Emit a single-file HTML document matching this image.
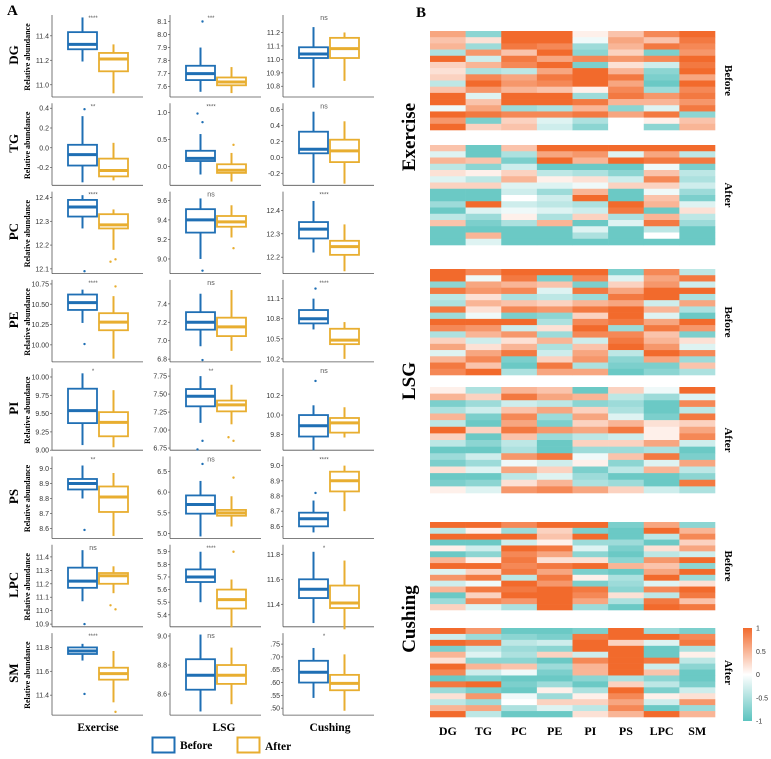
<!DOCTYPE html>
<html><head><meta charset="utf-8">
<style>
html,body{margin:0;padding:0;background:#fff;}
svg{display:block;}
.tick{font-family:"Liberation Sans",sans-serif;font-size:7px;fill:#333;}
.serif{font-family:"Liberation Serif",serif;}
</style></head>
<body>
<svg id="fig" width="771" height="759" viewBox="0 0 771 759" xmlns="http://www.w3.org/2000/svg">
<text class="serif" x="7" y="15" font-size="15" font-weight="bold">A</text>
<text class="serif" x="416" y="17" font-size="15" font-weight="bold">B</text>
<g id="boxes"></g>
<g id="heat"></g>
<text class="serif" x="98" y="731" font-size="11.5" font-weight="bold" text-anchor="middle">Exercise</text>
<text class="serif" x="224" y="731" font-size="11.5" font-weight="bold" text-anchor="middle">LSG</text>
<text class="serif" x="330" y="731" font-size="11.5" font-weight="bold" text-anchor="middle">Cushing</text>
<g>
<rect x="152.5" y="737.5" width="22" height="15" fill="none" stroke="#1f6fb4" stroke-width="2"/>
<text class="serif" x="180" y="749" font-size="11.5" font-weight="bold">Before</text>
</g>
<g>
<rect x="237.5" y="737.5" width="22" height="15" fill="none" stroke="#e8ae30" stroke-width="2"/>
<text class="serif" x="265" y="750" font-size="11.5" font-weight="bold">After</text>
</g>
</svg>
<script>
const NS="http://www.w3.org/2000/svg";
// ---------- Panel A data ----------
const lipids=["DG","TG","PC","PE","PI","PS","LPC","SM"];
const groups=["Exercise","LSG","Cushing"];
const domains=[
 [[10.9,11.57],[7.52,8.15],[10.72,11.33]],
 [[-0.38,0.45],[-0.35,1.17],[-0.35,0.675]],
 [[12.08,12.425],[8.85,9.69],[12.13,12.48]],
 [[9.79,10.8],[6.77,7.66],[10.155,11.38]],
 [[9.0,10.12],[6.72,7.86],[9.64,10.48]],
 [[8.533,9.08],[4.88,6.86],[8.52,9.06]],
 [[10.88,11.49],[5.305,5.955],[11.22,11.876]],
 [[11.233,11.92],[8.455,9.02],[0.473,0.793]]
];
const tickValues=[
 [[11.0,11.2,11.4],[7.6,7.7,7.8,7.9,8.0,8.1],[10.8,10.9,11.0,11.1,11.2]],
 [[-0.2,0,0.2,0.4],[0,0.5,1.0],[-0.2,0,0.2,0.4,0.6]],
 [[12.1,12.2,12.3,12.4],[9.0,9.2,9.4,9.6],[12.2,12.3,12.4]],
 [[10.0,10.25,10.5,10.75],[6.8,7.0,7.2,7.4],[10.2,10.5,10.8,11.1]],
 [[9.0,9.25,9.5,9.75,10.0],[6.75,7.0,7.25,7.5,7.75],[9.8,10.0,10.2]],
 [[8.6,8.7,8.8,8.9,9.0],[5.0,5.5,6.0,6.5],[8.6,8.7,8.8,8.9,9.0]],
 [[10.9,11.0,11.1,11.2,11.3,11.4],[5.4,5.5,5.6,5.7,5.8,5.9],[11.4,11.6,11.8]],
 [[11.4,11.6,11.8],[8.6,8.8,9.0],[0.50,0.55,0.60,0.65,0.70,0.75]]
];
const tickLabels=[
 [["11.0","11.2","11.4"],["7.6","7.7","7.8","7.9","8.0","8.1"],["10.8","10.9","11.0","11.1","11.2"]],
 [["-0.2","0.0","0.2","0.4"],["0.0","0.5","1.0"],["-0.2","0.0","0.2","0.4","0.6"]],
 [["12.1","12.2","12.3","12.4"],["9.0","9.2","9.4","9.6"],["12.2","12.3","12.4"]],
 [["10.00","10.25","10.50","10.75"],["6.8","7.0","7.2","7.4"],["10.2","10.5","10.8","11.1"]],
 [["9.00","9.25","9.50","9.75","10.00"],["6.75","7.00","7.25","7.50","7.75"],["9.8","10.0","10.2"]],
 [["8.6","8.7","8.8","8.9","9.0"],["5.0","5.5","6.0","6.5"],["8.6","8.7","8.8","8.9","9.0"]],
 [["10.9","11.0","11.1","11.2","11.3","11.4"],["5.4","5.5","5.6","5.7","5.8","5.9"],["11.4","11.6","11.8"]],
 [["11.4","11.6","11.8"],["8.6","8.8","9.0"],[".50",".55",".60",".65",".70",".75"]]
];
// [q1, median, q3, whiskerLow, whiskerHigh]
const beforeStats=[
 [[11.29,11.33,11.43,11.19,11.55],[7.65,7.70,7.76,7.56,7.90],[11.01,11.04,11.09,10.79,11.24]],
 [[-0.18,-0.07,0.03,-0.35,0.32],[0.10,0.15,0.29,-0.15,0.60],[0.05,0.10,0.32,-0.32,0.57]],
 [[12.32,12.36,12.39,12.27,12.41],[9.27,9.40,9.51,9.00,9.62],[12.28,12.32,12.35,12.22,12.44]],
 [[10.43,10.52,10.62,10.27,10.68],[7.12,7.20,7.31,6.94,7.51],[10.73,10.80,10.93,10.64,11.10]],
 [[9.37,9.54,9.84,9.07,10.05],[7.33,7.47,7.57,7.10,7.75],[9.78,9.89,10.00,9.64,10.10]],
 [[8.86,8.90,8.93,8.80,9.02],[5.48,5.70,5.92,4.93,6.27],[8.60,8.65,8.69,8.56,8.77]],
 [[11.17,11.22,11.32,11.07,11.45],[5.66,5.70,5.76,5.50,5.90],[11.45,11.52,11.60,11.25,11.82]],
 [[11.745,11.77,11.80,11.69,11.83],[8.63,8.73,8.84,8.48,9.01],[0.60,0.64,0.685,0.54,0.735]]
];
const afterStats=[
 [[11.11,11.21,11.26,10.93,11.33],[7.61,7.635,7.67,7.55,7.75],[11.01,11.08,11.16,10.84,11.20]],
 [[-0.29,-0.23,-0.11,-0.33,0.05],[-0.12,-0.07,0.04,-0.28,0.25],[-0.06,0.08,0.22,-0.33,0.45]],
 [[12.27,12.285,12.33,12.18,12.35],[9.33,9.38,9.44,9.22,9.55],[12.21,12.245,12.27,12.14,12.34]],
 [[10.18,10.28,10.39,9.83,10.60],[7.05,7.15,7.25,6.89,7.55],[10.42,10.48,10.65,10.20,10.75]],
 [[9.19,9.38,9.52,9.04,9.82],[7.26,7.35,7.41,7.08,7.63],[9.82,9.92,9.97,9.77,10.08]],
 [[8.71,8.81,8.88,8.55,8.97],[5.43,5.50,5.57,5.17,5.90],[8.83,8.90,8.96,8.70,9.00]],
 [[11.20,11.26,11.28,11.13,11.33],[5.45,5.52,5.60,5.30,5.68],[11.37,11.41,11.55,11.20,11.75]],
 [[11.53,11.58,11.63,11.34,11.77],[8.67,8.73,8.80,8.53,8.92],[0.57,0.597,0.63,0.49,0.71]]
];
const beforeOutliers=[
 [[],[8.1],[]],[[0.39],[0.82,0.98],[]],[[12.09],[8.88],[]],[[10.01],[6.79],[11.25]],
 [[],[6.85,6.73],[10.35]],[[8.59],[6.68],[8.82]],[[10.9],[],[]],[[11.41],[],[]]
];
const afterOutliers=[
 [[],[],[]],[[],[0.40],[]],[[12.14,12.13],[9.11],[]],[[10.72],[],[]],
 [[],[6.85,6.90],[]],[[],[6.35],[]],[[11.01,11.04],[5.9],[]],[[11.26],[],[]]
];
const sigLabels=[
 ["****","***","ns"],["**","****","ns"],["****","ns","****"],["****","ns","****"],
 ["*","**","ns"],["**","ns","****"],["ns","****","*"],["****","ns","*"]
];
// ---------- Panel B data (rows x [DG,TG,PC,PE,PI,PS,LPC,SM]) ----------
const heatCols=["DG","TG","PC","PE","PI","PS","LPC","SM"];
const exerciseBefore=[
[.6,-.7,1,1,.1,.4,.8,1],[.4,.2,1,1,-.1,.6,.4,.9],[.5,-.6,.9,.8,-.6,.5,.9,.8],[-.5,.7,.4,1,-.7,.3,-.8,.7],
[1,-.3,.9,.6,.8,.7,.8,1],[.3,.5,.8,1,-.8,.2,-.3,.9],[.2,-.5,-.4,.6,1,.5,-.7,1],[.3,.8,.6,.9,1,.9,-.8,.6],
[-.4,1,.7,.8,1,.6,-.9,1],[.4,.7,.5,.4,.1,.8,-.6,.8],[1,-.2,1,1,-.6,.9,.7,.9],[1,.4,1,1,.9,.5,.5,.7],
[-.1,.6,-.6,-.5,.5,-.7,-.2,.9],[1,.9,.8,.8,.9,.6,.9,-.7],[.7,-.8,.3,-.2,-.5,0,.1,.4],[1,.3,.4,-.3,-.7,0,-.7,.5]];
const exerciseAfter=[
[.4,-.9,.4,1,1,1,1,1],[-.2,-.9,-.5,.6,.7,-.2,.6,-.4],[.5,.4,-.8,1,.5,1,.9,.9],[-.4,-.7,-.3,-.9,-.9,-.9,-.1,-.8],
[.2,.1,.3,-.4,-.5,-.7,.4,-.4],[-.2,-.4,.5,.1,.2,-.3,.8,-.5],[.3,.3,-.2,-.2,-.1,.3,.3,-.3],[-.9,-.9,-.3,-.6,.5,-.9,-.1,-.6],
[-.9,-.9,0,-.3,1,-.9,.4,-.8],[-.6,1,-.3,-.4,-.5,1,.5,-.2],[-.9,-.2,-.1,-.2,-.3,.9,-.9,.2],[-.4,-.6,.1,-.5,.3,-.5,.5,-.4],
[.4,-.8,-.5,.5,-.9,-.2,.9,-.6],[-.9,-.9,-.9,-.9,-.2,-.9,-.4,-.9],[-.9,.5,-.9,-.9,-.5,-.9,0,-.9],[-.9,-.2,-.9,-.9,-.9,-.9,-.9,-.9]];
const lsgBefore=[
[1,.8,1,1,1,-.8,.8,-.4],[1,-.1,.9,-.8,.8,-.2,.6,.9],[-.7,.6,.5,.4,-.8,.3,.7,-.3],[.9,.7,.8,-.2,.9,.6,1,1],
[-.4,.2,-.5,-.4,-.6,.9,1,-.5],[-.5,.5,.4,.3,.5,.6,-.3,.6],[.9,.2,.8,.7,.9,1,.5,-.5],[-.6,-.1,-.8,-.7,.3,1,-.2,-.9],
[1,1,1,-.5,.8,.9,.6,1],[.8,.7,-.3,.2,1,-.6,.9,.7],[-.5,.5,.7,-.6,.8,.8,.4,-.8],[.3,-.3,.2,.5,-.3,.9,.5,.2],
[.6,.2,.5,-.5,.4,1,.7,-.2],[-.2,.6,.9,-.3,.6,-.4,1,.8],[.5,.8,-.8,.3,.7,-.7,.6,-.6],[.9,.4,-.9,.9,-.5,-.8,-.8,.4],
[.8,1,-.5,.6,.6,-.9,-.7,-.5]];
const lsgAfter=[
[.1,-.5,.5,.4,-.9,.3,-.1,1],[.5,.3,.9,.6,.5,-.4,-.6,-.2],[-.8,-.6,-.3,-.4,-.7,-.6,-.9,.8],[-.5,-.3,.4,.6,.3,-.5,-.9,-.4],
[.5,-.8,.8,-.6,.6,-.2,-.8,.9],[-.4,-.9,.6,-.8,.3,.5,.2,.3],[1,.3,.9,.7,.6,.9,.1,.6],[.3,-.9,.4,-.6,-.4,-.3,.1,.8],
[-.4,-.7,-.4,-.9,.3,.3,.6,-.3],[-.9,-.9,-.5,-.9,-.6,-.6,-.5,-.9],[-.6,-.3,.7,.9,-.1,.4,.9,-.8],[-.8,-.6,-.1,-.3,.1,-.7,-.2,.6],
[.2,-.2,.6,.3,-.8,-.4,.5,-.4],[-.9,-.9,-.4,-.2,-.6,-.9,-.9,-.7],[-.8,-.7,.2,.5,-.5,-.6,-.9,.9],[.1,-.2,.7,.8,.6,.3,-.3,-.5]];
const cushingBefore=[
[1,1,.8,1,1,-.8,.6,-.7],[-.4,.1,-.6,.3,-.8,-.9,1,.5],[1,1,1,.4,1,-.9,-.4,.8],[-.9,-.9,-.3,.1,-.6,-.6,-.9,.3],
[.1,-.3,1,.9,-.2,-.8,.2,.6],[-.9,-.7,.8,.6,-.7,-.9,-.4,-.3],[.5,.1,.9,.2,.2,-.7,.7,1],[1,1,.8,.9,1,.5,.4,-.7],
[-.2,.3,.9,.6,-.8,-.9,.6,1],[.7,.9,-.4,.9,.1,-.5,1,-.6],[-.3,-.1,1,.7,-.8,-.6,-.2,.2],[.5,.9,.9,1,.9,-.7,.8,1],
[-.9,.3,1,1,.8,.2,-.4,.9],[-.6,.8,.7,1,.6,-.5,.9,.4],[.3,-.2,-.5,1,-.6,-.9,1,.9]];
const cushingAfter=[
[1,.7,-.9,-.9,-.8,1,-.6,-.8],[-.3,-.6,-.7,-.8,.9,1,1,.8],[1,.9,-.4,-.3,1,.3,-.2,.9],[-.8,-.4,-.6,-.7,1,1,-.9,-.5],
[.5,-.2,-.5,.3,-.3,1,-.9,.1],[.2,-.7,-.7,-.9,.8,1,.9,-.4],[1,.5,.4,-.6,.5,1,-.3,-.7],[.8,-.3,-.1,-.8,.5,1,.4,-.9],
[-.9,-.8,-.9,-.9,-.7,-.5,-.7,-.9],[.9,1,-.8,-.6,-.9,.3,-.4,-.8],[-.6,-.8,-.9,.1,-.5,1,-.8,-.3],[.2,.7,-.1,-.6,.1,.8,.1,.2],
[-.4,-.6,0,.3,.3,.6,-.3,.7],[.5,.6,-.5,-.2,-.4,.8,-.9,-.6],[1,-.4,-.9,-.9,.2,.5,1,.5]];
const colorbarTicks=[1,0.5,0,-0.5,-1];

function mk(tag,attrs,parent){const e=document.createElementNS(NS,tag);for(const k in attrs)e.setAttribute(k,attrs[k]);if(parent)parent.appendChild(e);return e;}

// ---------- draw panel A ----------
const gA=document.getElementById('boxes');
const axisX=[52,170,283], axisLen=91, rowBottom0=97, rowStep=88.3, panelH=82;
const BLUE="#1f6fb4", ORANGE="#e8ae30";
for(let r=0;r<lipids.length;r++){
  const bottom=rowBottom0+r*rowStep, top=bottom-panelH;
  const rl=mk('text',{x:0,y:0,transform:`translate(18,${bottom-42}) rotate(-90)`,'text-anchor':'middle','font-size':13,'font-weight':'bold',class:'serif'},gA);
  
  
  rl.textContent=lipids[r];
  const yl=mk('text',{x:0,y:0,transform:`translate(30,${bottom-40}) rotate(-90)`,'text-anchor':'middle','font-size':8,'font-weight':'bold',class:'serif'},gA);
  
  
  yl.textContent='Relative abundance';
  for(let c=0;c<3;c++){
    const [lo,hi]=domains[r][c];
    const ys=v=>bottom-(v-lo)/(hi-lo)*panelH;
    const ax=axisX[c];
    const g=mk('g',{},gA);
    
    
    mk('line',{x1:ax,y1:top,x2:ax,y2:bottom,stroke:'#555','stroke-width':0.8},g);
    mk('line',{x1:ax,y1:bottom,x2:ax+axisLen,y2:bottom,stroke:'#555','stroke-width':0.8},g);
    tickValues[r][c].forEach((tv,i)=>{
      const y=ys(tv);
      mk('line',{x1:ax-2,y1:y,x2:ax,y2:y,stroke:'#555','stroke-width':0.7},g);
      const t=mk('text',{x:ax-3,y:y+2.5,'text-anchor':'end',class:'tick'},g);
      
      
      t.textContent=tickLabels[r][c][i];
    });
    const sets=[[beforeStats[r][c],beforeOutliers[r][c],BLUE,ax+16,'before'],[afterStats[r][c],afterOutliers[r][c],ORANGE,ax+47,'after']];
    sets.forEach(([s,outs,col,x0,nm])=>{
      const w=29, cx=x0+w/2;
      const b=mk('g',{},g);
      
      
      mk('line',{x1:cx,y1:ys(s[3]),x2:cx,y2:ys(s[0]),stroke:col,'stroke-width':2},b);
      mk('line',{x1:cx,y1:ys(s[2]),x2:cx,y2:ys(s[4]),stroke:col,'stroke-width':2},b);
      mk('rect',{x:x0,y:ys(s[2]),width:w,height:Math.max(1,ys(s[0])-ys(s[2])),fill:'none',stroke:col,'stroke-width':1.8},b);
      mk('line',{x1:x0,y1:ys(s[1]),x2:x0+w,y2:ys(s[1]),stroke:col,'stroke-width':3},b);
      outs.forEach((o,i)=>{
        const p=mk('circle',{cx:cx+(i%2?-3:2),cy:ys(o),r:1.2,fill:col},b);
        
        
      });
    });
    const sg=mk('text',{x:ax+41,y:top+5,'text-anchor':'middle','font-family':'Liberation Sans, sans-serif','font-size':sigLabels[r][c]==='ns'?7:6,fill:'#555'},g);
    
    
    sg.textContent=sigLabels[r][c];
  }
}

// ---------- draw panel B ----------
const gB=document.getElementById('heat');
const hx0=430, hx1=715, cw=(hx1-hx0)/heatCols.length;
function heatColor(v){
  const o=[242,106,44], w=[255,255,255], t=[91,195,191];
  const a=Math.min(1,Math.abs(v)), e=v>=0?o:t;
  return `rgb(${w.map((x,i)=>Math.round(x+(e[i]-x)*a)).join(',')})`;
}
const heatPanels=[
 [exerciseBefore,31,130,'exercise-before','Before'],
 [exerciseAfter,145,245,'exercise-after','After'],
 [lsgBefore,269,375,'lsg-before','Before'],
 [lsgAfter,387,493,'lsg-after','After'],
 [cushingBefore,522,610,'cushing-before','Before'],
 [cushingAfter,628,717,'cushing-after','After']
];
heatPanels.forEach(([data,y0,y1,nm,lab])=>{
  const g=mk('g',{},gB);
  
  
  const rh=(y1-y0)/data.length;
  data.forEach((row,ri)=>row.forEach((v,ci)=>{
    const cell=mk('rect',{x:hx0+ci*cw,y:y0+ri*rh,width:cw+0.3,height:rh+0.3,fill:heatColor(v)},g);
    
    
  }));
  const t=mk('text',{x:0,y:0,transform:`translate(725,${(y0+y1)/2}) rotate(90)`,'text-anchor':'middle','font-size':11,'font-weight':'bold',class:'serif'},g);
  
  
  t.textContent=lab;
});
[['Exercise',137],['LSG',381],['Cushing',619]].forEach(([n,cy])=>{
  const t=mk('text',{x:0,y:0,transform:`translate(415,${cy}) rotate(-90)`,'text-anchor':'middle','font-size':19,'font-weight':'bold',class:'serif'},gB);
  
  
  t.textContent=n;
});
heatCols.forEach((c,i)=>{
  const t=mk('text',{x:hx0+(i+0.5)*cw,y:735,'text-anchor':'middle','font-size':12,'font-weight':'bold',class:'serif'},gB);
  
  
  t.textContent=c;
});
// colorbar
const defs=mk('defs',{},gB);
const lg=mk('linearGradient',{id:'cb',x1:0,y1:0,x2:0,y2:1},defs);
mk('stop',{offset:'0','stop-color':heatColor(1)},lg);
mk('stop',{offset:'0.5','stop-color':'#ffffff'},lg);
mk('stop',{offset:'1','stop-color':heatColor(-1)},lg);
const cbTop=628, cbBot=721;
const cb=mk('rect',{x:743,y:cbTop,width:9,height:cbBot-cbTop,fill:'url(#cb)'},gB);


colorbarTicks.forEach(v=>{
  const y=cbTop+(1-v)/2*(cbBot-cbTop);
  const t=mk('text',{x:756,y:y+2.5,class:'tick','font-size':7},gB);
  
  
  t.textContent=String(v);
});
</script>
</body></html>
